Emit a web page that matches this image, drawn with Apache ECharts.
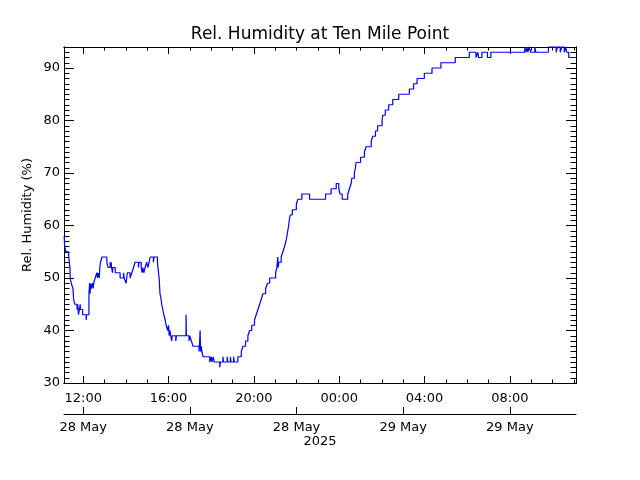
<!DOCTYPE html>
<html>
<head>
<meta charset="utf-8">
<script src="https://cdn.jsdelivr.net/npm/echarts@6/dist/echarts.min.js"></script>
<style>html,body{margin:0;padding:0;background:#fff;}#c{width:640px;height:480px;}</style>
</head>
<body>
<div id="c"></div>
<script>
// Time in hours since 28 May 2025 00:00; RH in %
const times = [11.11,11.13,11.19,11.32,11.35,11.38,11.39,11.44,11.52,11.55,11.60,11.71,11.74,11.76,11.78,11.86,11.87,11.97,12.14,12.16,
12.27,12.30,12.32,12.35,12.38,12.44,12.47,12.49,12.56,12.64,12.67,12.70,12.75,12.78,12.81,12.88,13.11,13.16,13.26,13.28,
13.31,13.33,13.37,13.39,13.50,13.73,13.89,13.92,14.01,14.07,14.20,14.28,14.36,14.43,14.59,14.62,14.72,14.76,14.80,14.84,
14.90,14.98,15.03,15.09,15.14,15.29,15.32,15.48,15.53,15.56,15.60,15.65,15.68,15.73,15.78,15.84,15.89,15.96,16.00,16.03,
16.07,16.10,16.15,16.17,16.34,16.37,16.82,16.84,16.96,16.99,17.07,17.15,17.43,17.46,17.48,17.50,17.54,17.56,17.62,17.93,
18.00,18.03,18.10,18.13,18.40,18.43,18.55,18.58,18.75,18.78,18.90,18.93,19.05,19.08,19.25,19.41,19.49,19.61,19.72,19.80,
19.90,20.03,20.11,20.19,20.27,20.35,20.42,20.55,20.64,20.74,21.02,21.08,21.12,21.14,21.17,21.28,21.36,21.44,21.50,21.55,
21.59,21.63,21.66,21.70,21.80,21.99,22.06,22.25,22.61,23.36,23.62,23.86,23.98,24.04,24.14,24.40,24.48,24.56,24.59,24.71,
24.76,24.79,25.00,25.18,25.26,25.50,25.57,25.70,25.80,26.01,26.04,26.16,26.32,26.51,26.79,27.29,27.49,27.65,27.99,28.35,
28.77,29.44,30.10,30.41,30.50,30.53,30.69,30.95,31.11,32.70,32.75,32.80,32.84,32.90,32.98,33.17,33.22,33.81,34.17,34.23,
34.36,34.43,34.55,34.62,34.66,34.76,35.10];
const rh = [58,56,55,54,53,52,50,49,48,46,45,44,45,44,43,45,44,43,42,43,
47,49,47,49,48,49,48,49,50,51,50,51,50,52,53,54,53,52,53,52,
53,52,51,52,51,50,51,50,49,51,50,51,52,53,52,53,52,51,52,51,
52,53,52,53,54,53,54,53,51,50,47,46,45,44,43,42,41,40,41,39,
40,39,38,39,38,39,43,39,38,39,38,37,36,38,40,36,37,36,35,34,
35,34,35,34,33,34,35,34,35,34,35,34,35,34,35,36,37,38,39,40,
41,42,43,44,45,46,47,48,49,50,51,52,54,52,53,54,55,56,57,58,
59,60,61,62,63,64,65,66,65,66,67,68,67,66,65,66,67,68,69,70,
71,72,73,74,75,76,77,78,79,80,81,82,83,84,85,86,87,88,89,90,
91,92,93,92,93,92,93,92,93,94,93,94,93,94,93,94,93,94,93,94,
93,94,93,94,93,92,92];

const timeTickValues = [12,16,20,24,28,32];
const timeTickLabels = ['12:00','16:00','20:00','00:00','04:00','08:00'];
const hourTickValues = [12,13,14,15,16,17,18,19,20,21,22,23,24,25,26,27,28,29,30,31,32,33,34,35];
const dateTickValues = [12,17,22,27,32];
const dateTickLabels = ['28 May','28 May','28 May','29 May','29 May'];
const yMajorValues = [30,40,50,60,70,80,90];
const yMinorValues = [];
for (let v = 30; v <= 94; v++) yMinorValues.push(v);

const X_MIN = 11.1, X_MAX = 35.1, Y_MIN = 30, Y_MAX = 94;
const FONT = 'DejaVu Sans';
const black = '#000';

function xAxisCfg(pos, ticks, len, labels) {
  return {
    type: 'value', position: pos, min: X_MIN, max: X_MAX, gridIndex: 0,
    axisLine: { show: true, onZero: false, lineStyle: { color: black, width: 1 } },
    axisTick: { show: true, inside: true, length: len, customValues: ticks, lineStyle: { color: black, width: 1 } },
    axisLabel: labels ? {
      show: true, customValues: ticks, margin: 9, color: black, fontFamily: FONT, fontSize: 13,
      formatter: v => { const i = timeTickValues.findIndex(t => Math.abs(t - v) < 1e-6); return i >= 0 ? timeTickLabels[i] : ''; }
    } : { show: false },
    splitLine: { show: false }
  };
}
function yAxisCfg(pos, ticks, len, labels) {
  return {
    type: 'value', position: pos, min: Y_MIN, max: Y_MAX, gridIndex: 0,
    axisLine: { show: true, onZero: false, lineStyle: { color: black, width: 1 } },
    axisTick: { show: true, inside: true, length: len, customValues: ticks, lineStyle: { color: black, width: 1 } },
    axisLabel: labels ? { show: true, customValues: ticks, margin: 4, color: black, fontFamily: FONT, fontSize: 13 } : { show: false },
    splitLine: { show: false }
  };
}

const chart = echarts.init(document.getElementById('c'), null, { renderer: 'canvas' });
const dateAxis = {
  type: 'value', position: 'bottom', offset: 31, min: X_MIN, max: X_MAX, gridIndex: 0,
  axisLine: { show: true, onZero: false, lineStyle: { color: black, width: 1 } },
  axisTick: { show: true, inside: true, length: 7, customValues: dateTickValues, lineStyle: { color: black, width: 1 } },
  axisLabel: {
    show: true, customValues: dateTickValues, margin: 7, color: black, fontFamily: FONT, fontSize: 13,
    formatter: v => { const i = dateTickValues.findIndex(t => Math.abs(t - v) < 1e-6); return i >= 0 ? dateTickLabels[i] : ''; }
  },
  splitLine: { show: false }
};

chart.setOption({
  animation: false,
  backgroundColor: '#fff',
  grid: { left: 64, right: 64, top: 47, bottom: 97, containLabel: false },
  xAxis: [
    xAxisCfg('bottom', timeTickValues, 7, true),
    xAxisCfg('bottom', hourTickValues, 3.5, false),
    xAxisCfg('top', timeTickValues, 7, false),
    xAxisCfg('top', hourTickValues, 3.5, false),
    dateAxis
  ],
  yAxis: [
    yAxisCfg('left', yMajorValues, 10, true),
    yAxisCfg('left', yMinorValues, 5.5, false),
    yAxisCfg('right', yMajorValues, 10, false),
    yAxisCfg('right', yMinorValues, 5.5, false)
  ],
  graphic: [
    { type: 'text', x: 320, y: 35, style: { text: 'Rel. Humidity at Ten Mile Point', fontFamily: FONT, fontSize: 17, fill: black, align: 'center', verticalAlign: 'middle' } },
    { type: 'text', x: 320, y: 442, style: { text: '2025', fontFamily: FONT, fontSize: 13, fill: black, align: 'center', verticalAlign: 'middle' } },
    { type: 'text', x: 28, y: 215, rotation: Math.PI / 2, style: { text: 'Rel. Humidity (%)', fontFamily: FONT, fontSize: 13, fill: black, align: 'center', verticalAlign: 'middle' } }
  ],
  series: [{
    type: 'line', xAxisIndex: 0, yAxisIndex: 0,
    data: times.map((t, i) => [t, rh[i]]),
    step: 'end', showSymbol: false, symbol: 'none', clip: false,
    lineStyle: { color: '#0000ff', width: 1.2 }
  }]
});
</script>
</body>
</html>
